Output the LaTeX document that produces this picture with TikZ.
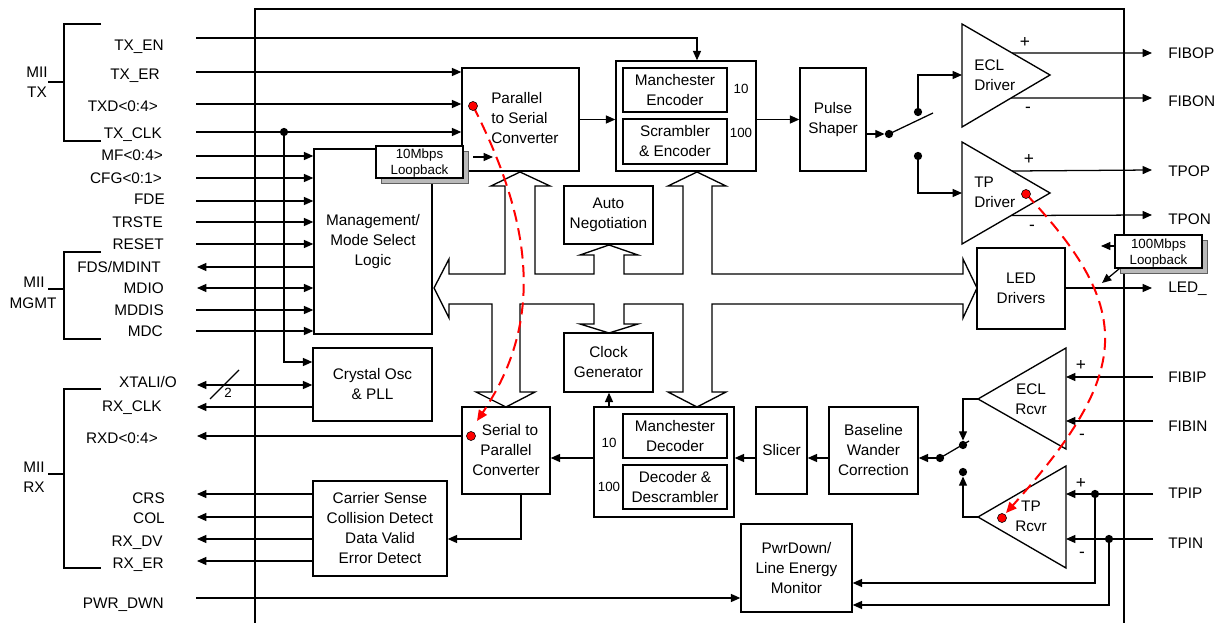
\documentclass[tikz,border=0pt]{standalone}
\usepackage{fontspec}
\setmainfont{Liberation Sans}
\usetikzlibrary{arrows.meta,fit,calc}
\begin{document}
\begin{tikzpicture}[x=0.75pt,y=-0.75pt,
  every node/.style={font=\fontsize{11.5}{15}\selectfont},
  blk/.style={draw, line width=1.05pt, inner sep=0pt, fill=white},
  btxt/.style={align=center, inner sep=0pt},
  sig/.style={line width=0.95pt},
  arr/.style={sig, -{Triangle[length=7pt,width=6pt]}},
  darr/.style={sig, {Triangle[length=7pt,width=6pt]}-{Triangle[length=7pt,width=6pt]}},
  lbl/.style={inner sep=0pt, text height=8.2pt, text depth=0pt},
  slbl/.style={inner sep=0pt, text height=7.2pt, text depth=0pt, font=\fontsize{10}{12}\selectfont},
  small/.style={font=\fontsize{10}{12}\selectfont},
  pm/.style={inner sep=0pt, font=\fontsize{13}{13}\selectfont},
  jdot/.style={circle, fill=black, inner sep=0pt, minimum size=6.2pt},
  rdot/.style={circle, fill=red, draw=black, line width=0.4pt, inner sep=0pt, minimum size=6.8pt},
  reddash/.style={draw=red, line width=1.5pt, dash pattern=on 9pt off 5pt, -{Triangle[length=8pt,width=7pt]}},
  shadowbox/.style={fill=gray!55, draw=gray!75!black, line width=0.5pt},
]
\useasboundingbox (0,0) rectangle (1222,623);

% chip outline
\draw[line width=1.1pt] (255,623) -- (255,9) -- (1124,9) -- (1124,623);

% MII brackets
\draw[sig] (101,24) -- (64,24) -- (64,141) -- (101,141);
\draw[sig] (48,82) -- (64,82);
\node[lbl] (gTXa) at (37,72) {MII};
\node[lbl] (gTXb) at (37,92) {TX};
\draw[sig] (101,252) -- (64,252) -- (64,339) -- (101,339);
\draw[sig] (48,289) -- (64,289);
\node[lbl] (gMGa) at (34,282) {MII};
\node[lbl] (gMGb) at (33,303) {MGMT};
\draw[sig] (101,389) -- (64,389) -- (64,568) -- (101,568);
\draw[sig] (48,474) -- (64,474);
\node[lbl] (gRXa) at (34,467) {MII};
\node[lbl] (gRXb) at (34,487) {RX};

% signal labels left
\node[lbl,anchor=east] (tTXEN) at (164,45) {TX\_EN};
\node[lbl,anchor=east] (tTXER) at (160,74) {TX\_ER};
\node[lbl,anchor=east] (tTXD) at (158,106) {TXD<0:4>};
\node[lbl,anchor=east] (tTXCLK) at (162,133) {TX\_CLK};
\node[lbl,anchor=east] (tMF) at (163,155) {MF<0:4>};
\node[lbl,anchor=east] (tCFG) at (162,178) {CFG<0:1>};
\node[lbl,anchor=east] (tFDE) at (165,199) {FDE};
\node[lbl,anchor=east] (tTRSTE) at (163,222) {TRSTE};
\node[lbl,anchor=east] (tRESET) at (164,244) {RESET};
\node[lbl,anchor=east] (tFDS) at (161,267) {FDS/MDINT};
\node[lbl,anchor=east] (tMDIO) at (164,288) {MDIO};
\node[lbl,anchor=east] (tMDDIS) at (164,310) {MDDIS};
\node[lbl,anchor=east] (tMDC) at (163,331) {MDC};
\node[lbl,anchor=east] (tXTAL) at (177,382) {XTALI/O};
\node[lbl,anchor=east] (tRXCLK) at (162,406) {RX\_CLK};
\node[lbl,anchor=east] (tRXD) at (158,438) {RXD<0:4>};
\node[lbl,anchor=east] (tCRS) at (165,498) {CRS};
\node[lbl,anchor=east] (tCOL) at (165,518) {COL};
\node[lbl,anchor=east] (tRXDV) at (163,541) {RX\_DV};
\node[lbl,anchor=east] (tRXER) at (164,563) {RX\_ER};
\node[lbl,anchor=east] (tPWR) at (164,603) {PWR\_DWN};

% right labels
\node[lbl,anchor=west] (tFIBOP) at (1168,53) {FIBOP};
\node[lbl,anchor=west] (tFIBON) at (1168,101) {FIBON};
\node[lbl,anchor=west] (tTPOP) at (1168,171) {TPOP};
\node[lbl,anchor=west] (tTPON) at (1168,219) {TPON};
\node[lbl,anchor=west] (tLED) at (1168,287) {LED\_};
\node[lbl,anchor=west] (tFIBIP) at (1168,377) {FIBIP};
\node[lbl,anchor=west] (tFIBIN) at (1168,426) {FIBIN};
\node[lbl,anchor=west] (tTPIP) at (1168,493) {TPIP};
\node[lbl,anchor=west] (tTPIN) at (1168,543) {TPIN};

% hollow bus
\draw[line width=1pt, line join=miter] (449,259) -- (434,288) -- (449,318) -- (449,304) -- (492,304) -- (492,392) -- (476,392) -- (506,407) -- (535,392) -- (520,392) -- (520,304) -- (594,304) -- (594,324) -- (580,324) -- (609,333) -- (638,324) -- (624,324) -- (624,304) -- (683,304) -- (683,392) -- (668,392) -- (697,407) -- (726,392) -- (712,392) -- (712,304) -- (963,304) -- (963,318) -- (977,288) -- (963,259) -- (963,274) -- (712,274) -- (712,186) -- (726,186) -- (697,172) -- (668,186) -- (683,186) -- (683,274) -- (624,274) -- (624,255) -- (638,255) -- (609,245) -- (580,255) -- (594,255) -- (594,274) -- (535,274) -- (535,186) -- (550,186) -- (520,172) -- (491,186) -- (505,186) -- (505,274) -- (449,274) -- cycle;

% blocks
\node[blk, fit={(314,149) (432,334)}] (mgmt) {};
\node[btxt] (mgmtT) at (mgmt.center) {Management/\\Mode Select\\Logic};
\node[blk, fit={(462,68) (579,171)}] (par) {};
\node[anchor=west, align=left, inner sep=0pt] (partxt) at (491,118.5) {Parallel\\to Serial\\Converter};
\node[blk, fit={(616,61) (756,171)}] (menc) {};
\node[blk, fit={(623,68) (727,112)}] (mencA) {};
\node[btxt] (mencAT) at (mencA.center) {Manchester\\Encoder};
\node[blk, fit={(623,119) (727,164)}] (mencB) {};
\node[btxt] (mencBT) at (mencB.center) {Scrambler\\\& Encoder};
\node[slbl] (n10a) at (741,89) {10};
\node[slbl] (n100a) at (741,133) {100};
\node[blk, fit={(800,68) (866,171)}] (pulse) {};
\node[btxt] (pulseT) at (pulse.center) {Pulse\\Shaper};
\node[blk, fit={(564,186) (653,244)}] (auto) {};
\node[btxt] (autoT) at (auto.center) {Auto\\Negotiation};
\node[blk, fit={(564,333) (653,392)}] (clk) {};
\node[btxt] (clkT) at (clk.center) {Clock\\Generator};
\node[blk, fit={(313,348) (432,421)}] (xtal) {};
\node[btxt] (xtalT) at (xtal.center) {Crystal Osc\\\& PLL};
\node[blk, fit={(462,407) (550,494)}] (s2p) {};
\node[btxt] (s2pT) at (s2p.center) {\hspace*{6pt}Serial to\\Parallel\\Converter};
\node[blk, fit={(594,407) (734,517)}] (dec) {};
\node[blk, fit={(623,414) (727,458)}] (decA) {};
\node[btxt] (decAT) at (decA.center) {Manchester\\Decoder};
\node[blk, fit={(623,465) (727,509)}] (decB) {};
\node[btxt] (decBT) at (decB.center) {Decoder \&\\Descrambler};
\node[slbl] (n10b) at (609,443) {10};
\node[slbl] (n100b) at (609,487) {100};
\node[blk, fit={(756,407) (807,494)}] (slicer) {};
\node[btxt] (slicerT) at (slicer.center) {Slicer};
\node[blk, fit={(829,407) (918,494)}] (bwc) {};
\node[btxt] (bwcT) at (bwc.center) {Baseline\\Wander\\Correction};
\node[blk, fit={(313,481) (447,576)}] (csd) {};
\node[btxt] (csdT) at (csd.center) {Carrier Sense\\Collision Detect\\Data Valid\\Error Detect};
\node[blk, fit={(741,524) (852,612)}] (pwr) {};
\node[btxt] (pwrT) at (pwr.center) {PwrDown/\\Line Energy\\Monitor};
\node[blk, fit={(977,248) (1065,329)}] (led) {};
\node[btxt] (ledT) at (led.center) {LED\\Drivers};

% triangles
\coordinate (eD1) at (962,24); \coordinate (eD2) at (1050,75); \coordinate (eD3) at (962,127);
\coordinate (tD1) at (962,142); \coordinate (tD2) at (1050,193); \coordinate (tD3) at (962,244);
\coordinate (eR1) at (1066,348); \coordinate (eR2) at (978,399); \coordinate (eR3) at (1066,449);
\coordinate (tR1) at (1066,466); \coordinate (tR2) at (978,517); \coordinate (tR3) at (1066,568);
\draw[line width=1pt, line join=miter] (eD1) -- (eD2) -- (eD3) -- cycle;
\draw[line width=1pt, line join=miter] (tD1) -- (tD2) -- (tD3) -- cycle;
\draw[line width=1pt, line join=miter] (eR1) -- (eR2) -- (eR3) -- cycle;
\draw[line width=1pt, line join=miter] (tR1) -- (tR2) -- (tR3) -- cycle;
\node[anchor=west, align=left, inner sep=0pt] (eDt) at (974,75) {ECL\\Driver};
\node[anchor=west, align=left, inner sep=0pt] (tDt) at (974,192) {TP\\Driver};
\node[align=center, inner sep=0pt] (eRt) at (1031,399) {ECL\\Rcvr};
\node[align=center, inner sep=0pt] (tRt) at (1031,516.5) {TP\\Rcvr};
\node[pm] (pm1) at (1025,43) {+};
\node[pm] (pm2) at (1028,110) {-};
\node[pm] (pm3) at (1029,160) {+};
\node[pm] (pm4) at (1032,228) {-};
\node[pm] (pm5) at (1081,366) {+};
\node[pm] (pm6) at (1082,437) {-};
\node[pm] (pm7) at (1081,483) {+};
\node[pm] (pm8) at (1082,555) {-};

% left side coordinates
\coordinate (LTXEN) at (196,38);
\coordinate (LTXER) at (196,72);
\coordinate (LTXD) at (196,104);
\coordinate (LTXCLK) at (196,132);
\coordinate (LMF) at (196,156);
\coordinate (LCFG) at (196,178);
\coordinate (LFDE) at (196,201);
\coordinate (LTRSTE) at (196,222);
\coordinate (LRESET) at (196,244);
\coordinate (LFDS) at (197,267);
\coordinate (LMDIO) at (197,288);
\coordinate (LMDDIS) at (196,310);
\coordinate (LMDC) at (196,331);
\coordinate (LXTAL) at (197,385);
\coordinate (LRXCLK) at (197,407);
\coordinate (LRXD) at (197,436);
\coordinate (LCRS) at (197,494);
\coordinate (LCOL) at (197,517);
\coordinate (LRXDV) at (197,539);
\coordinate (LRXER) at (197,561);
\coordinate (LPWR) at (196,598);

% TX inputs
\coordinate (txenbend) at (697,38);
\draw[arr] (LTXEN) -- (txenbend) -- (txenbend |- menc.north);
\draw[arr] (LTXER) -- (LTXER -| par.west);
\draw[arr] (LTXD) -- (LTXD -| par.west);
\draw[arr] (LTXCLK) -- (LTXCLK -| par.west);
\node[jdot] (clkdot) at (284,132) {};
\coordinate (clkbend) at (284,362);
\draw[arr] (clkdot.center) -- (clkbend) -- (clkbend -| xtal.west);

% management
\draw[arr] (LMF) -- (LMF -| mgmt.west);
\draw[arr] (LCFG) -- (LCFG -| mgmt.west);
\draw[arr] (LFDE) -- (LFDE -| mgmt.west);
\draw[arr] (LTRSTE) -- (LTRSTE -| mgmt.west);
\draw[arr] (LRESET) -- (LRESET -| mgmt.west);
\draw[arr] (LFDS -| mgmt.west) -- (LFDS);
\draw[darr] (LMDIO) -- (LMDIO -| mgmt.west);
\draw[arr] (LMDDIS) -- (LMDDIS -| mgmt.west);
\draw[arr] (LMDC) -- (LMDC -| mgmt.west);

% crystal
\draw[darr] (LXTAL) -- (LXTAL -| xtal.west);
\draw[sig] (210,399) -- (239,370);
\node[slbl] (two) at (228,393) {2};
\draw[arr] (LRXCLK -| xtal.west) -- (LRXCLK);

% RX outputs
\draw[arr] (LRXD -| s2p.west) -- (LRXD);
\draw[arr] (LCRS -| csd.west) -- (LCRS);
\draw[arr] (LCOL -| csd.west) -- (LCOL);
\draw[arr] (LRXDV -| csd.west) -- (LRXDV);
\draw[arr] (LRXER -| csd.west) -- (LRXER);
\draw[arr] (LPWR) -- (LPWR -| pwr.west);

% s2p to carrier sense
\coordinate (s2pdown) at (521,539);
\draw[arr] (s2pdown |- s2p.south) -- (s2pdown) -- (s2pdown -| csd.east);

% TX chain
\draw[arr] (par.east) -- (par.east -| menc.west);
\draw[arr] (menc.east |- par.east) -- (par.east -| pulse.west);
\node[jdot] (swp) at (889,134) {};
\draw[arr] (pulse.east |- swp) -- (swp.west);
\draw[sig] (swp.center) -- (933,113);
\node[jdot] (swu) at (918,112) {};
\node[jdot] (swl) at (918,156) {};
\coordinate (eDin) at (962,75);
\coordinate (tDin) at (962,193);
\draw[arr] (swu.center) |- (eDin);
\draw[arr] (swl.center) |- (tDin);

% driver outputs
\coordinate (oFIBOP) at (1152,53);
\coordinate (oFIBON) at (1152,98);
\coordinate (oTPOP) at (1152,170);
\coordinate (oTPON) at (1152,215);
\coordinate (oLED) at (1152,288);
\draw[arr] ($(eD1)!0.569!(eD2)$) -- (oFIBOP);
\draw[arr] ($(eD3)!0.558!(eD2)$) -- (oFIBON);
\draw[arr] ($(tD1)!0.569!(tD2)$) -- (oTPOP);
\draw[arr] ($(tD3)!0.558!(tD2)$) -- (oTPON);
\draw[arr] (oLED -| led.east) -- (oLED);

% RX chain
\coordinate (rxy) at (0,458);
\draw[arr] (bwc.west |- rxy) -- (rxy -| slicer.east);
\draw[arr] (slicer.west |- rxy) -- (rxy -| dec.east);
\draw[arr] (dec.west |- rxy) -- (rxy -| s2p.east);
\coordinate (decclk) at (609,0);
\draw[arr] (decclk |- dec.north) -- (decclk |- clk.south);

% receive switch
\node[jdot] (rsu) at (963,445) {};
\node[jdot] (rsl) at (963,472) {};
\node[jdot] (rsp) at (940,458) {};
\coordinate (eRout) at (963,399);
\coordinate (tRout) at (963,517);
\draw[arr] (eR2) -- (eRout) -- (rsu.north);
\draw[arr] (tR2) -- (tRout) -- (rsl.south);
\draw[sig] (rsp.center) -- (969,441);
\draw[arr] (rsp.center) -- (rsp -| bwc.east);

% receiver inputs
\coordinate (iFIBIP) at (1153,377);
\coordinate (iFIBIN) at (1153,421);
\coordinate (iTPIP) at (1153,494);
\coordinate (iTPIN) at (1153,539);
\draw[arr] (iFIBIP) -- (iFIBIP -| eR1);
\draw[arr] (iFIBIN) -- (iFIBIN -| eR1);
\draw[arr] (iTPIP) -- (iTPIP -| tR1);
\draw[arr] (iTPIN) -- (iTPIN -| tR1);
\node[jdot] (dTPIP) at (1095,494) {};
\node[jdot] (dTPIN) at (1109,539) {};
\coordinate (pwrA) at (0,583);
\coordinate (pwrB) at (0,605);
\draw[arr] (dTPIP.center) |- (pwrA -| pwr.east);
\draw[arr] (dTPIN.center) |- (pwrB -| pwr.east);

% loopback boxes
\draw[shadowbox] (381,151) rectangle (468,183);
\node[blk, fit={(376,146) (463,178)}] (lb10) {};
\node[btxt, small] (lb10T) at ($(lb10.center)+(0,1.5)$) {10Mbps\\Loopback};
\coordinate (lbC0) at (473,157);
\coordinate (lbC) at (493,157);
\draw[arr] (lbC0) -- (lbC);
\draw[shadowbox] (1120,240) rectangle (1207,273);
\node[blk, fit={(1115,235) (1202,268)}] (lb100) {};
\node[btxt, small] (lb100T) at ($(lb100.center)+(0,2)$) {100Mbps\\Loopback};
\coordinate (lbA) at (1101,246);
\coordinate (lbB) at (1102,283);
\draw[arr] (lbA -| lb100.west) -- (lbA);
\draw[arr] ($(lb100.south west)+(5,0)$) -- (lbB);

% red loopback paths
\draw[reddash] (473,106) .. controls (541,239) and (537,332) .. (477,421);
\draw[reddash] (1026,194) .. controls (1136,311) and (1131,373) .. (1006,513);
\node[rdot] (r1) at (473,106) {};
\node[rdot] (r2) at (471,436) {};
\node[rdot] (r3) at (1026,194) {};
\node[rdot] (r4) at (1002,518) {};
\end{tikzpicture}
\end{document}
